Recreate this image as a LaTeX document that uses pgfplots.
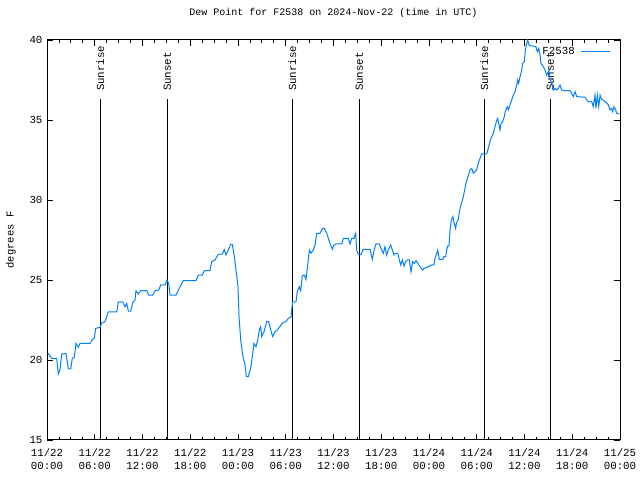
\documentclass[border=0pt]{standalone}
\usepackage{fontspec}
\setmainfont{Liberation Mono}
\usepackage{pgfplots}
\pgfplotsset{compat=1.18}
\definecolor{dew}{RGB}{0,128,255}
\begin{document}
\begin{tikzpicture}[font=\fontsize{10bp}{13bp}\selectfont]
\useasboundingbox (-47bp,-40bp) rectangle (593bp,440bp);
\begin{axis}[
  scale only axis,
  width=573bp, height=400bp,
  xmin=0, xmax=72, ymin=15, ymax=40,
  xtick={0,6,...,72},
  minor x tick num=3,
  xticklabels={{11/22\\00:00},{11/22\\06:00},{11/22\\12:00},{11/22\\18:00},{11/23\\00:00},{11/23\\06:00},{11/23\\12:00},{11/23\\18:00},{11/24\\00:00},{11/24\\06:00},{11/24\\12:00},{11/24\\18:00},{11/25\\00:00}},
  xticklabel style={align=center, font=\fontsize{10.8bp}{13bp}\selectfont, yshift=-5bp},
  ytick={15,20,...,40},
  yticklabel style={xshift=-1bp, font=\fontsize{10.8bp}{13bp}\selectfont},
  /pgf/number format/assume math mode=true,
  tick align=inside,
  major tick length=6bp,
  minor tick length=3bp,
  axis line style={line width=1bp},
  every tick/.style={black, line width=0.8bp},
  ylabel={degrees F},
  ylabel style={at={(axis description cs:-0.0628,0.5)}, anchor=center, font=\fontsize{10.5bp}{13bp}\selectfont},
  title={Dew Point for F2538 on 2024-Nov-22 (time in UTC)},
  title style={at={(axis description cs:0.5,1)}, anchor=center, yshift=21bp},
  legend plot pos=right,
  legend style={at={(1,1)}, anchor=north east, draw=none, fill=none, xshift=-6bp, yshift=-3bp, font=\fontsize{10.8bp}{13bp}\selectfont},
  legend image code/.code={\path (0bp,0bp); \draw[#1] (4bp,0bp) -- (33bp,0bp);},
]
\addplot[black, line width=1bp, forget plot] coordinates {(6.70,15) (6.70,36.3)};
\addplot[black, line width=1bp, forget plot] coordinates {(15.12,15) (15.12,36.3)};
\addplot[black, line width=1bp, forget plot] coordinates {(30.82,15) (30.82,36.3)};
\addplot[black, line width=1bp, forget plot] coordinates {(39.24,15) (39.24,36.3)};
\addplot[black, line width=1bp, forget plot] coordinates {(54.95,15) (54.95,36.3)};
\addplot[black, line width=1bp, forget plot] coordinates {(63.24,15) (63.24,36.3)};
\node[rotate=90, anchor=west, inner sep=0pt, font=\fontsize{10.8bp}{13bp}\selectfont] at (axis cs:6.70,36.8) {Sunrise};
\node[rotate=90, anchor=west, inner sep=0pt, font=\fontsize{10.8bp}{13bp}\selectfont] at (axis cs:15.12,36.8) {Sunset};
\node[rotate=90, anchor=west, inner sep=0pt, font=\fontsize{10.8bp}{13bp}\selectfont] at (axis cs:30.82,36.8) {Sunrise};
\node[rotate=90, anchor=west, inner sep=0pt, font=\fontsize{10.8bp}{13bp}\selectfont] at (axis cs:39.24,36.8) {Sunset};
\node[rotate=90, anchor=west, inner sep=0pt, font=\fontsize{10.8bp}{13bp}\selectfont] at (axis cs:54.95,36.8) {Sunrise};
\node[rotate=90, anchor=west, inner sep=0pt, font=\fontsize{10.8bp}{13bp}\selectfont] at (axis cs:63.24,36.8) {Sunset};
\addplot[dew, line width=1bp, sharp plot] coordinates {
(0.13,20.42) (0.59,20.1) (1.22,20.1) (1.42,19.125) (1.63,19.4) (1.85,20.375) (2.39,20.4) (2.68,19.44) (2.98,19.44) (3.18,20.1) (3.43,20.17) (3.64,21.04) (3.93,20.8) (4.15,21.04) (5.40,21.04) (5.74,21.3) (5.94,21.36) (6.12,21.98) (6.66,22.04) (6.87,22.3) (7.29,22.4) (7.70,23.0) (8.76,23.0) (8.96,23.64) (9.51,23.64) (9.80,23.33) (10.01,23.54) (10.22,23.06) (10.52,23.06) (10.77,23.58) (11.06,23.75) (11.18,24.33) (11.47,24.125) (11.77,24.33) (12.53,24.33) (12.78,24.06) (13.28,24.06) (13.57,24.33) (14.04,24.375) (14.29,24.69) (14.83,24.69) (15.08,25.0) (15.29,24.79) (15.46,24.06) (16.21,24.06)
(16.62,24.48) (16.84,24.69) (17.13,24.96) (18.72,24.96) (19.01,25.31) (19.51,25.31) (19.77,25.58) (20.48,25.58) (20.70,26.15) (21.11,26.25) (21.52,26.6) (22.03,26.625) (22.28,26.9) (22.49,26.56) (22.87,26.98) (23.08,27.23) (23.28,27.23) (23.54,26.46) (23.75,25.625) (24.00,24.58) (24.13,22.7) (24.34,21.25) (24.59,20.3) (24.88,19.69) (25.04,18.96) (25.29,18.96) (25.63,19.58) (25.85,20.42) (26.01,21.04) (26.26,20.83) (26.48,21.25) (26.68,21.875) (26.85,22.08) (26.98,21.46) (27.27,21.77) (27.61,22.4) (27.86,22.4) (28.11,21.875) (28.36,21.46) (28.65,21.77) (28.94,21.875) (29.19,22.04)
(29.62,22.33) (30.03,22.4) (30.32,22.6) (30.66,22.7) (30.79,23.33) (30.87,23.64) (31.29,23.64) (31.45,24.27) (31.70,24.58) (31.88,24.33) (32.08,25.25) (32.33,25.31) (32.54,25.04) (32.71,25.73) (32.96,26.875) (33.17,26.67) (33.46,26.875) (33.68,27.19) (33.89,27.92) (34.30,27.92) (34.64,28.23) (34.84,28.23) (35.15,27.92) (35.56,27.29) (35.85,26.92) (36.06,27.19) (36.31,27.25) (37.03,27.25) (37.23,27.6) (37.86,27.6) (38.07,27.25) (38.29,27.6) (38.58,27.6) (38.79,27.92) (38.92,26.875) (39.12,26.6) (39.46,26.6) (39.75,26.92) (40.59,26.92) (40.88,26.29) (41.13,26.92) (41.34,27.25) (41.75,27.25)
(42.06,26.875) (42.26,26.67) (42.47,27.08) (42.68,26.56) (42.89,26.875) (43.19,27.19) (43.39,26.875) (43.60,26.56) (43.82,26.67) (44.07,26.67) (44.27,26.25) (44.44,25.94) (44.65,26.25) (44.86,25.875) (45.07,26.15) (45.27,26.25) (45.52,26.25) (45.74,25.52) (45.95,26.15) (46.15,26.04) (46.37,26.21) (46.58,26.04) (46.87,25.83) (47.21,25.625) (47.41,25.73) (47.91,25.83) (48.34,25.94) (48.63,25.94) (48.75,26.35) (48.97,26.67) (49.10,26.875) (49.29,26.29) (49.72,26.29) (49.88,26.46) (50.10,26.46) (50.22,26.875) (50.35,27.125) (50.51,27.125) (50.64,28.1)
(50.80,28.75) (51.01,28.96) (51.10,28.65) (51.35,28.23) (51.44,28.54) (51.65,28.75) (51.86,29.375) (52.07,29.79) (52.27,30.1) (52.48,30.625) (52.70,31.15) (52.90,31.46) (53.15,31.875) (53.36,31.98) (53.57,31.67) (53.78,31.77) (53.99,31.875) (54.19,32.29) (54.41,32.6) (54.62,32.875) (55.25,32.875) (55.45,33.23) (55.66,33.65) (55.88,33.96) (56.08,34.17) (56.29,34.58) (56.50,34.96) (56.63,35.1) (56.80,34.69) (56.92,34.375) (57.05,34.79) (57.26,34.9) (57.46,35.21) (57.64,35.625) (57.84,35.83) (57.97,35.625) (58.18,35.94) (58.39,36.25) (58.59,36.56) (58.81,36.77) (59.02,37.19) (59.14,37.5) (59.27,37.29) (59.44,37.71) (59.65,38.125) (59.77,38.54) (59.98,38.65) (60.10,39.375) (60.28,39.79) (60.40,40.0)
(60.60,39.625) (61.11,39.625) (61.44,39.58) (61.61,39.27) (61.79,39.48) (61.95,39.06) (62.07,38.54) (62.36,38.33) (62.58,38.125) (62.79,37.81) (62.91,37.92) (63.08,38.125) (63.20,37.6) (63.42,37.29) (63.62,36.875) (63.83,36.98) (64.05,36.875) (64.25,36.98) (64.46,37.19) (64.67,36.875) (64.88,36.83) (65.72,36.83) (65.93,36.67) (66.13,36.46) (66.35,36.77) (66.56,36.46) (67.60,36.42) (67.82,36.25) (68.02,36.15) (68.45,36.15) (68.64,35.83) (68.86,36.56) (68.98,35.73) (69.15,36.56) (69.33,35.83) (69.49,36.56) (69.71,36.25) (69.90,36.25) (70.12,36.15) (70.33,36.08) (70.53,35.94) (70.74,35.625) (70.96,35.73) (71.08,35.52) (71.25,35.83) (71.46,35.625) (71.58,35.42) (71.91,35.375)
};
\addlegendentry{F2538}
\end{axis}
\end{tikzpicture}
\end{document}
